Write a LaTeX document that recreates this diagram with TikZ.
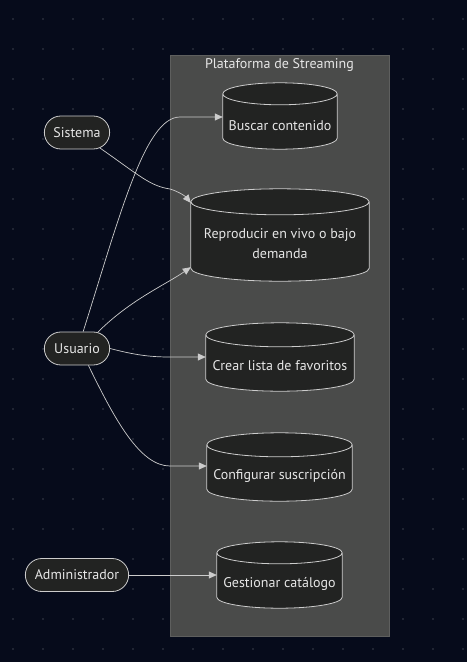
\documentclass[tikz,border=0pt]{standalone}
\usepackage{fontspec}
\setmainfont{PT Sans}
\usepackage{tikz}
\usetikzlibrary{positioning,shapes.misc,arrows.meta,calc}
\definecolor{bgcol}{HTML}{060B1B}
\definecolor{dotcol}{HTML}{2A2F3C}
\definecolor{clustercol}{HTML}{4A4B4A}
\definecolor{clusterline}{HTML}{5E5F5E}
\definecolor{nodecol}{HTML}{222322}
\definecolor{linecol}{HTML}{CCCCCC}
\definecolor{textcol}{HTML}{E6E6E6}
\pgfdeclarelayer{bg}
\pgfdeclarelayer{mid}
\pgfsetlayers{bg,mid,main}
\tikzset{
	actor/.style={
			rounded rectangle,
			draw=linecol,
			fill=nodecol,
			text=textcol,
			line width=0.8pt,
			minimum height=33pt
		},
	usecase/.style={text=textcol, align=center, inner sep=0pt},
	cylbody/.style={draw=linecol, fill=nodecol, line width=0.8pt},
	flow/.style={draw=linecol, line width=0.7pt, -{Triangle[length=8pt,width=7pt]}}
}
% cylinder round a use case node: name, depth of the ellipse, room above the node
\newcommand{\drawcyl}[3]{%
	\draw[cylbody] let \p1=(#1.north west), \p2=(#1.south east), \n1={(\x2-\x1)/2} in
	(\x1,\y1+#3-#2) -- (\x1,\y2+#2)
	arc[start angle=180, end angle=360, x radius=\n1, y radius=#2]
	-- (\x2,\y1+#3-#2)
	arc[start angle=0, end angle=180, x radius=\n1, y radius=#2] -- cycle
	(\x1,\y1+#3-#2) arc[start angle=180, end angle=360, x radius=\n1, y radius=#2];
}

\begin{document}
\begin{tikzpicture}[x=1pt, y=-1pt, font=\fontsize{14}{20}\selectfont]
		\useasboundingbox (0,0) rectangle (467,662);

		% Background with dots
		\begin{pgfonlayer}{bg}
			\fill[bgcol] (0,0) rectangle (467,662);
			\foreach \gx in {13,43,...,463}
			\foreach \gy in {19,49,...,649}
			\fill[dotcol] (\gx,\gy) circle[radius=1.2pt];

			% Plataforma de Streaming
			\draw[clusterline, fill=clustercol] (170,55) rectangle (389,636);
		\end{pgfonlayer}

		\node[text=textcol] (title) at (279.5,65) {Plataforma de Streaming};

		% Use cases
		\node[usecase,
			minimum width=114pt,
			minimum height=46pt
		] (buscar) at (280,126) {Buscar contenido};

		\node[usecase,
			minimum width=178pt,
			minimum height=74pt
		] (repro) at (280,244) {Reproducir en vivo o bajo\\demanda};

		\node[usecase,
			minimum width=148pt,
			minimum height=50pt
		] (crear) at (280,366) {Crear lista de favoritos};

		\node[usecase,
			minimum width=145pt,
			minimum height=50pt
		] (config) at (279.5,476) {Configurar suscripción};

		\node[usecase,
			minimum width=125pt,
			minimum height=48pt
		] (gestion) at (279.5,584) {Gestionar catálogo};

		\begin{pgfonlayer}{mid}
			\drawcyl{buscar}{11pt}{20pt}
			\drawcyl{repro}{13pt}{18pt}
			\drawcyl{crear}{12pt}{18pt}
			\drawcyl{config}{12pt}{18pt}
			\drawcyl{gestion}{11pt}{18pt}
		\end{pgfonlayer}

		% Actors
		\node[actor, minimum width=72pt] (sistema) at (77,132.5) {Sistema};
		\node[actor, minimum width=72pt] (usuario) at (77,348.5) {Usuario};
		\node[actor, minimum width=110pt] (admin) at (77,575) {Administrador};

		% Arrows
		\draw[flow] (sistema.-34) .. controls (140,176) and (150,186) .. (170,189)
		.. controls (180,192) and (186,197) .. ([yshift=4pt]repro.north west);

		\draw[flow] (usuario.70) .. controls (120,215) and (145,117) .. (180,117)
		-- ([yshift=9pt]buscar.west);

		\draw[flow] (usuario.38) .. controls (130,300) and (165,285)
		.. ([yshift=14pt]repro.south west);

		\draw[flow] (usuario.east) .. controls (135,355) and (150,357) .. (170,357)
		-- ([yshift=9pt]crear.west);

		\draw[flow] (usuario.-56) .. controls (115,420) and (140,466) .. (170,466)
		-- ([yshift=10pt]config.west);

		\draw[flow] (admin.east) -- ([yshift=9pt]gestion.west);
	\end{tikzpicture}
\end{document}
